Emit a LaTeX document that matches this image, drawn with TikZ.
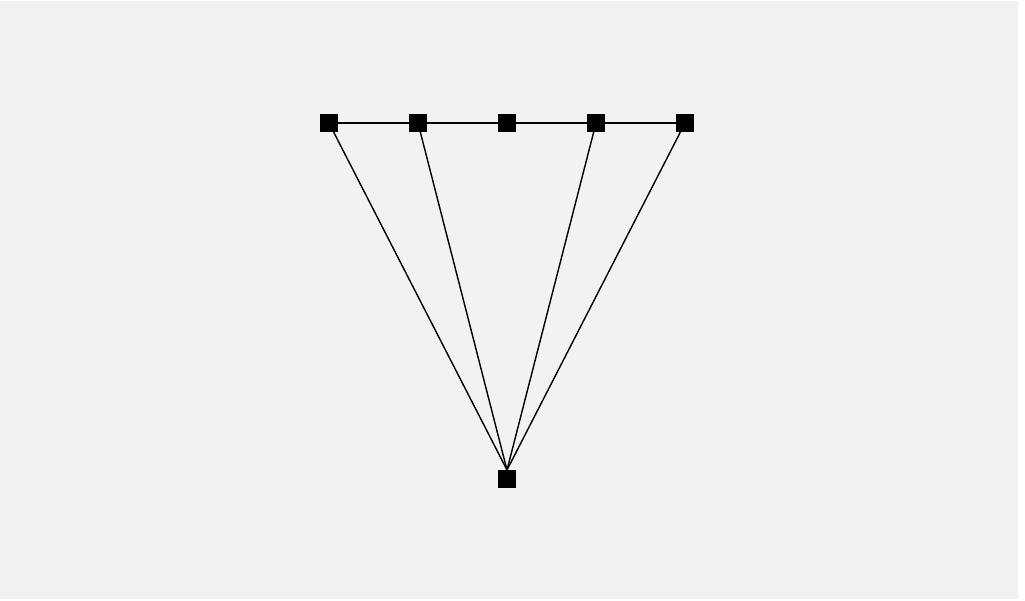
\documentclass[tikz,border=0pt]{standalone}
\usepackage{xcolor}
\usepackage{tikz}
\usetikzlibrary{positioning}
\definecolor{canvas}{HTML}{F2F2F2}
\tikzset{
  sq/.style={draw=black, fill=black, rectangle, minimum size=17.4pt,
             inner sep=0pt, line width=0.6pt},
  ln/.style={draw=black, line width=1.4pt},
}
\begin{document}
\begin{tikzpicture}[x=1pt, y=-1pt]
  % --- background ---
  \fill[white] (0,0) rectangle (1025,600);
  \fill[canvas] (0,1) rectangle (1018,599);
  \useasboundingbox (0,0) rectangle (1025,600);

  % --- top row ---
  \node[sq] (t1) at (329,123) {};
  \node[sq, right=71pt of t1] (t2) {};
  \node[sq, right=71pt of t2] (t3) {};
  \node[sq, right=71pt of t3] (t4) {};
  \node[sq, right=71pt of t4] (t5) {};

  % --- bottom ---
  \node[sq] (b) at (507,479) {};

  \draw[ln] (t1) -- (t2) -- (t3) -- (t4) -- (t5);
  \foreach \t in {t1,t2,t4,t5} \draw[ln] (\t) -- (b.north);
\end{tikzpicture}
\end{document}
